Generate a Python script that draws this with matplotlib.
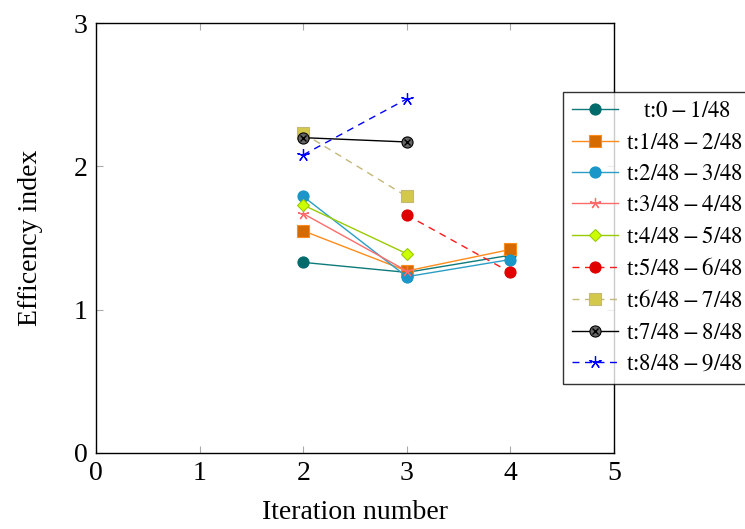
import matplotlib
matplotlib.use("Agg")
import matplotlib.pyplot as plt
from matplotlib.legend_handler import HandlerTuple

plt.rcParams['font.family'] = ['Liberation Serif', 'DejaVu Serif']
plt.rcParams['mathtext.fontset'] = 'stix'

labels = ["   t:$0-1/48$", "t:$1/48-2/48$", "t:$2/48-3/48$", "t:$3/48-4/48$",
          "t:$4/48-5/48$", "t:$5/48-6/48$", "t:$6/48-7/48$", "t:$7/48-8/48$",
          "t:$8/48-9/48$"]
xs = [
    [2, 3, 4],
    [2, 3, 4],
    [2, 3, 4],
    [2, 3],
    [2, 3],
    [3, 4],
    [2, 3],
    [2, 3],
    [2, 3],
]
ys = [
    [1.33, 1.26, 1.38],
    [1.55, 1.27, 1.42],
    [1.79, 1.23, 1.35],
    [1.67, 1.27],
    [1.73, 1.39],
    [1.66, 1.26],
    [2.23, 1.79],
    [2.20, 2.17],
    [2.08, 2.47],
]
line_colors = ['#0f7a7a', '#ff8c1a', '#2a9ec4', '#ff6b6b', '#99cc00', '#ff1a1a', '#c4b878', '#000000', '#0000ff']
face_colors = ['#006b6b', '#d46a00', '#1a96c8', '#ff6b6b', '#ccff00', '#e00000', '#d4c84a', '#666666', '#0000ff']
edge_colors = ['#006b6b', '#ff8c1a', '#1a96c8', '#ff6b6b', '#99cc00', '#e00000', '#c4b878', '#000000', '#0000ff']
markers = ['o', 's', 'o', (5, 2, 0), 'D', 'o', 's', 'o', (5, 2, 0)]
msizes = [8, 8, 8, 8, 6, 8, 8, 8, 9]
styles = ['-', '-', '-', '-', '-', '--', '--', '-', '--']

fig = plt.figure(figsize=(7.45, 5.29), dpi=100)
ax = fig.add_axes([96/745, 1-453/529, (614-96)/745, (453-23)/529])

handles = []
for i in range(9):
    star = i in (3, 8)
    h, = ax.plot(xs[i], ys[i], linestyle=styles[i], color=line_colors[i], lw=1.0,
                 marker=markers[i], markersize=msizes[i],
                 markerfacecolor=face_colors[i],
                 markeredgecolor=edge_colors[i], markeredgewidth=0.9 if star else 0.8,
                 label=labels[i], dashes=(5, 4) if styles[i] == '--' else (None, None))
    if i == 7:
        hx, = ax.plot(xs[i], ys[i], linestyle='none', marker='x', color='#000000',
                      markersize=5, markeredgewidth=1.0)
        handles.append((h, hx))
    else:
        handles.append(h)

ax.set_xlim(0, 5)
ax.set_ylim(0, 3)
ax.set_xticks([0, 1, 2, 3, 4, 5])
ax.set_yticks([0, 1, 2, 3])
ax.tick_params(direction='in', top=True, right=True, length=5, color='#aaaaaa',
               labelsize=20, pad=6)
for s in ax.spines.values():
    s.set_linewidth(1.0)
ax.set_xlabel('Iteration number', fontsize=20, labelpad=10)
ax.set_ylabel('Efficency index', fontsize=20, labelpad=22)

leg = fig.legend(handles=handles, labels=labels, loc='upper left', bbox_to_anchor=(563/745, 1-92/529),
                 fontsize=16.5, frameon=True, fancybox=False, edgecolor='black',
                 borderpad=0.4, labelspacing=0.45, handlelength=2.0, handletextpad=0.35,
                 borderaxespad=0, handler_map={tuple: HandlerTuple(ndivide=1, pad=0)})
leg.get_frame().set_linewidth(1.0)

fig.savefig('out.png', dpi=100)
